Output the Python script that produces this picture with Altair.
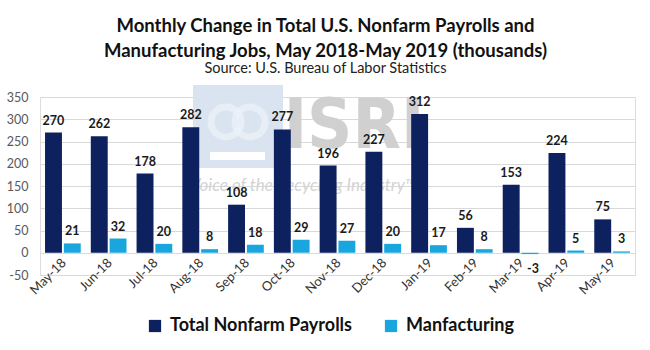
import altair as alt
import pandas as pd

months = ["May-18", "Jun-18", "Jul-18", "Aug-18", "Sep-18", "Oct-18", "Nov-18",
          "Dec-18", "Jan-19", "Feb-19", "Mar-19", "Apr-19", "May-19"]
nonfarm = [270, 262, 178, 282, 108, 277, 196, 227, 312, 56, 153, 224, 75]
manufacturing = [21, 32, 20, 8, 18, 29, 27, 20, 17, 8, -3, 5, 3]
series_names = ["Total Nonfarm Payrolls", "Manfacturing"]
series_colors = ["#0c215e", "#19a6df"]
y_ticks = [-50, 0, 50, 100, 150, 200, 250, 300, 350]

rows = []
for m, a, b in zip(months, nonfarm, manufacturing):
    rows.append({"month": m, "series": series_names[0], "value": a})
    rows.append({"month": m, "series": series_names[1], "value": b})
df = pd.DataFrame(rows)

W, H = 595, 178

x_enc = alt.X("month:N", sort=months,
              scale=alt.Scale(paddingInner=0.22, paddingOuter=0.11),
              axis=alt.Axis(title=None, labelAngle=-45, labelFontSize=13,
                            labelColor="#333333", labelFont="Lato",
                            labelPadding=-19, labelOffset=-3, ticks=False,
                            domain=False, grid=False, labelOverlap=False))
xoff = alt.XOffset("series:N", sort=series_names,
                   scale=alt.Scale(paddingInner=0.1))
y_axis = alt.Axis(title=None, values=y_ticks, tickCount=20, labelFontSize=12.5,
                  labelColor="#595959", labelFont="Lato",
                  labelExpr="'' + datum.value",
                  gridColor="#d9d9d9", domain=False, ticks=False,
                  labelPadding=12, labelOverlap=False)
y_enc = alt.Y("value:Q", scale=alt.Scale(domain=[-50, 350], nice=False), axis=y_axis)
color_enc = alt.Color("series:N", sort=series_names,
                      scale=alt.Scale(domain=series_names, range=series_colors),
                      legend=alt.Legend(title=None, orient="none", direction="horizontal",
                                        legendX=106, legendY=220,
                                        symbolType="square", symbolSize=150,
                                        symbolStrokeWidth=0, labelFontSize=18,
                                        labelFont="Lato", labelFontWeight="bold",
                                        labelColor="#111111", columnPadding=30,
                                        labelLimit=400, labelOffset=6))

base = alt.Chart(df).transform_calculate(label="'' + datum.value")

bars = base.mark_bar().encode(x=x_enc, xOffset=xoff, y=y_enc, color=color_enc)

x_plain = alt.X("month:N", sort=months)
xoff_plain = alt.XOffset("series:N", sort=series_names)

labels_pos = base.transform_filter("datum.value >= 0").mark_text(
    baseline="bottom", dy=-5, fontSize=12.5, fontWeight="bold", font="Lato",
    color="#1a1a1a"
).encode(x=x_plain, xOffset=xoff_plain, y=y_enc, text="label:N")

labels_neg = base.transform_filter("datum.value < 0").mark_text(
    baseline="top", dy=9, dx=3, fontSize=12.5, fontWeight="bold", font="Lato",
    color="#1a1a1a"
).encode(x=x_plain, xOffset=xoff_plain, y=y_enc, text="label:N")

# faint ISRI watermark (decoration)
wm = alt.Data(values=[{"k": 1}])
logo_box = alt.Chart(wm).mark_rect(color="#d9e4f0").encode(
    x=alt.value(153), x2=alt.value(243), y=alt.value(-12), y2=alt.value(71))
logo_ring1 = alt.Chart(wm).mark_point(shape="circle", size=900, strokeWidth=7,
                                      color="#eef3f9", filled=False).encode(
    x=alt.value(186), y=alt.value(25))
logo_ring2 = alt.Chart(wm).mark_point(shape="circle", size=900, strokeWidth=7,
                                      color="#eef3f9", filled=False).encode(
    x=alt.value(210), y=alt.value(25))
logo_bar = alt.Chart(wm).mark_rect(color="#ffffff").encode(
    x=alt.value(170), x2=alt.value(225), y=alt.value(55), y2=alt.value(63))
isri = alt.Chart(wm).mark_text(text="ISRI",
                               font="DejaVu Sans Condensed, Liberation Sans, sans-serif",
                               fontWeight="bold", fontSize=70, color="#d0d0d0",
                               align="center", baseline="middle").encode(
    x=alt.value(314), y=alt.value(30))
voice = alt.Chart(wm).mark_text(text="Voice of the Recycling Industry\u2122",
                                font="Lato", fontStyle="italic", fontSize=17,
                                color="#d3d3d3", align="left", baseline="middle").encode(
    x=alt.value(150), y=alt.value(89))

chart = alt.layer(logo_box, logo_ring1, logo_ring2, logo_bar, isri, voice,
                  bars, labels_pos, labels_neg).properties(
    width=W, height=H,
    autosize=alt.AutoSizeParams(type="none"),
    padding={"left": 40, "top": 97, "right": 15, "bottom": 75},
    title=alt.TitleParams(
        text=["Monthly Change in Total U.S. Nonfarm Payrolls and",
              "Manufacturing  Jobs, May 2018-May 2019 (thousands)"],
        subtitle="Source: U.S. Bureau of Labor Statistics",
        font="Lato", fontSize=18.5, fontWeight="bold", color="#111111",
        lineHeight=25, subtitleFont="Lato", subtitleFontSize=14.5,
        subtitleColor="#222222", subtitlePadding=1, anchor="middle",
        dx=-12, offset=10)
).configure_view(stroke=None).configure(background="white")

chart.save("out.html", embed_options={"renderer": "svg", "actions": False})
